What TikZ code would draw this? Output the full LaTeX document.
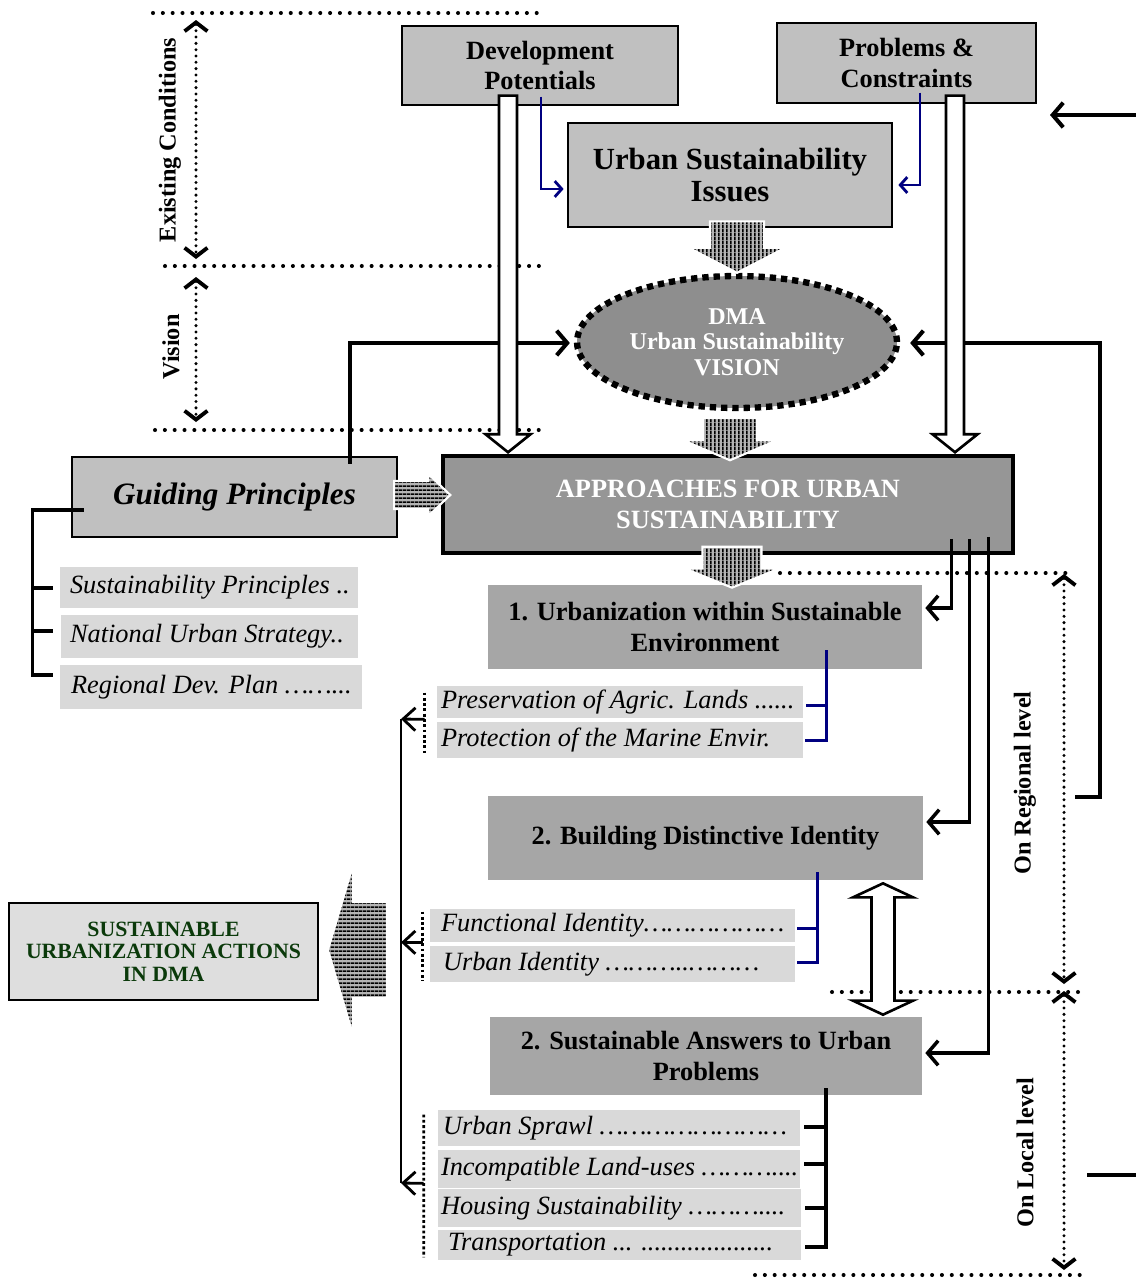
\documentclass[tikz,border=0pt]{standalone}
\usepackage{fontspec}
\setmainfont{Liberation Serif}
\usepackage{xcolor}
\usepackage{tikz}
\usetikzlibrary{positioning,arrows.meta,calc,shapes.geometric,patterns.meta}
\definecolor{boxgrey}{HTML}{C0C0C0}
\definecolor{coregrey}{HTML}{969696}
\definecolor{visiongrey}{HTML}{8E8E8E}
\definecolor{stepgrey}{HTML}{A6A6A6}
\definecolor{itemgrey}{HTML}{D9D9D9}
\definecolor{actiongrey}{HTML}{DEDEDE}
\definecolor{stripegrey}{HTML}{B4B4B4}
\definecolor{navyline}{HTML}{000080}
\definecolor{deepgreen}{HTML}{0B3A0B}

% stripes for the block arrows
\tikzdeclarepattern{
  name=vlines,
  type=uncolored,
  bounding box={(0pt,0pt) and (2.3pt,2.3pt)},
  tile size={(2.3pt,2.3pt)},
  code={\pgfpathrectangle{\pgfpointorigin}{\pgfpoint{1.2pt}{2.3pt}}\pgfusepath{fill}}
}
\tikzdeclarepattern{
  name=hlines,
  type=uncolored,
  bounding box={(0pt,0pt) and (2.3pt,2.3pt)},
  tile size={(2.3pt,2.3pt)},
  code={\pgfpathrectangle{\pgfpointorigin}{\pgfpoint{2.3pt}{1.2pt}}\pgfusepath{fill}}
}

% block arrows: style, from, tip, shaft half width, head half width, head length (px)
\newcommand{\downblock}[6]{%
  \path[#1] let \p1=(#2), \p2=(#3) in
    ({\x1-(#4)*0.02cm},{\y1}) -- ({\x1+(#4)*0.02cm},{\y1}) -- ({\x1+(#4)*0.02cm},{\y2+(#6)*0.02cm})
    -- ({\x1+(#5)*0.02cm},{\y2+(#6)*0.02cm}) -- ({\x1},{\y2}) -- ({\x1-(#5)*0.02cm},{\y2+(#6)*0.02cm})
    -- ({\x1-(#4)*0.02cm},{\y2+(#6)*0.02cm}) -- cycle;}
\newcommand{\sideblock}[6]{%
  \path[#1] let \p1=(#2), \p2=(#3) in
    ({\x1},{\y1+(#4)*0.02cm}) -- ({\x1},{\y1-(#4)*0.02cm}) -- ({\x2-(#6)*0.02cm},{\y1-(#4)*0.02cm})
    -- ({\x2-(#6)*0.02cm},{\y1-(#5)*0.02cm}) -- ({\x2},{\y1}) -- ({\x2-(#6)*0.02cm},{\y1+(#5)*0.02cm})
    -- ({\x2-(#6)*0.02cm},{\y1+(#4)*0.02cm}) -- cycle;}

\begin{document}
\begin{tikzpicture}[x=0.02cm,y=-0.02cm,>=Stealth]
    \tikzset{
        topbox/.style={
            draw=black,
            line width=0.7pt,
            fill=boxgrey,
            inner sep=0pt,
            align=center,
            font=\fontsize{15}{17.6}\selectfont\bfseries
        },
        issuebox/.style={topbox, line width=1.6pt, font=\fontsize{17.5}{17.8}\selectfont\bfseries},
        guidebox/.style={topbox, line width=1.3pt, font=\fontsize{17.7}{20}\selectfont\bfseries\itshape},
        corebox/.style={topbox, fill=coregrey, line width=2pt, text=white, font=\fontsize{15}{18}\selectfont\bfseries},
        visionnode/.style={
            ellipse,
            fill=visiongrey,
            draw=black,
            line width=3.6pt,
            dash pattern=on 3.6pt off 2.8pt,
            inner sep=0pt,
            align=center,
            text=white,
            font=\fontsize{13.7}{14.5}\selectfont\bfseries
        },
        stepbox/.style={fill=stepgrey, inner sep=0pt, align=center, font=\fontsize{15}{18}\selectfont\bfseries},
        itembox/.style 2 args={fill=itemgrey, inner sep=0pt, minimum width=#1, minimum height=#2},
        itemtext/.style={anchor=west, inner sep=0pt, font=\fontsize{15}{16}\selectfont\itshape},
        actionbox/.style={topbox, fill=actiongrey, line width=1.1pt, text=deepgreen, font=\fontsize{12.4}{12.8}\selectfont\bfseries},
        levelline/.style={line width=2.3pt, line cap=round, dash pattern=on 0pt off 5.6pt},
        levelarrow/.style={
            line width=1.9pt,
            line cap=round,
            dash pattern=on 0pt off 3.6pt,
            {Straight Barb[length=5pt,width=13pt,line width=2.2pt]}-{Straight Barb[length=5pt,width=13pt,line width=2.2pt]}
        },
        levellab/.style={rotate=90, inner sep=0pt, font=\fontsize{13.8}{14}\selectfont\bfseries},
        feedline/.style={line width=2.3pt},
        feedarrow/.style={line width=2.3pt, -{Straight Barb[length=6pt,width=14pt]}},
        pickarrow/.style={line width=2pt, -{Straight Barb[length=6pt,width=14pt]}, shorten >=0.06cm},
        bluearrow/.style={draw=navyline, line width=1.6pt, -{Straight Barb[length=4pt,width=9pt]}},
        bluebrace/.style={draw=navyline, line width=1.7pt},
        blackbrace/.style={line width=1.9pt},
        treeline/.style={line width=1.9pt},
        dotbar/.style={line width=1.6pt, dash pattern=on 1.6pt off 1.4pt},
        gatherline/.style={line width=1.6pt},
        gatherarrow/.style={line width=1.6pt, -{Straight Barb[length=7pt,width=13pt]}},
        hollow/.style={fill=white, draw=black, line width=1.5pt},
        vstripe/.style={preaction={fill=stripegrey}, pattern=vlines, pattern color=black, draw=white, line width=1.2pt},
        hstripe/.style={preaction={fill=stripegrey}, pattern=hlines, pattern color=black, draw=white, line width=1.2pt}
    }
    \useasboundingbox (0,0) rectangle (1136,1278);

    % Levels of the framework
    \draw[levelline] (153,13) -- (540,13);
    \draw[levelline] (165,266) -- (545,266);
    \draw[levelline] (155,430) -- (545,430);
    \draw[levelline] (780,573) -- (1070,573);
    \draw[levelline] (832,992) -- (1086,992);
    \draw[levelline] (755,1275) -- (1086,1275);
    \draw[levelarrow] (196,20) -- (196,259);
    \draw[levelarrow] (196,277) -- (196,422);
    \draw[levelarrow] (1064,574) -- (1064,984);
    \draw[levelarrow] (1064,991) -- (1064,1270);
    \node[levellab] (existlab)  at (170,140)  {Existing Conditions};
    \node[levellab] (visionlab) at (171,347)  {Vision};
    \node[levellab] (regionlab) at (1025,783) {On Regional level};
    \node[levellab] (locallab)  at (1025,1153){On Local level};

    % Main boxes
    \node[topbox, minimum width=5.52cm, minimum height=1.58cm] (devpot) at (540,65.5) {Development\\Potentials};
    \node[topbox, minimum width=5.18cm, minimum height=1.6cm] (probs) at (906.5,63) {Problems \&\\Constraints};
    \node[issuebox, minimum width=6.48cm, minimum height=2.08cm] (issues) at (730,175) {Urban Sustainability\\Issues};
    \node[visionnode, minimum width=6.4cm, minimum height=2.64cm] (vision) at (737,342) {DMA\\Urban Sustainability\\VISION};
    \node[guidebox, minimum width=6.5cm, minimum height=1.6cm] (guide) at (234.5,497) {Guiding Principles};
    \node[corebox, minimum width=11.4cm, minimum height=1.94cm] (approach) at (728,504.5) {APPROACHES FOR URBAN\\SUSTAINABILITY};
    \node[stepbox, minimum width=8.68cm, minimum height=1.68cm] (urbenv) at (705,627) {1. Urbanization within Sustainable\\Environment};
    \node[stepbox, minimum width=8.7cm, minimum height=1.68cm] (identity) at (705.5,838) {2. Building Distinctive Identity};
    \node[stepbox, minimum width=8.64cm, minimum height=1.56cm] (answers) at (706,1056) {2. Sustainable Answers to Urban\\Problems};
    \node[actionbox, minimum width=6.18cm, minimum height=1.94cm] (actions) at (163.5,951.5) {SUSTAINABLE\\URBANIZATION ACTIONS\\IN DMA};

    % Sub items
    \node[itembox={5.96cm}{0.82cm}, label={[itemtext, xshift=0.2cm]west:Sustainability Principles ..}] (sp) at (209,587.5) {};
    \node[itembox={5.94cm}{0.86cm}, label={[itemtext, xshift=0.18cm]west:National Urban Strategy..}] (nus) at (209.5,636.5) {};
    \node[itembox={6.04cm}{0.88cm}, label={[itemtext, xshift=0.22cm]west:Regional Dev. Plan ……...}] (rdp) at (211,687) {};
    \node[itembox={7.32cm}{0.64cm}, label={[itemtext, xshift=0.08cm]west:Preservation of Agric. Lands ......}] (pal) at (620,702) {};
    \node[itembox={7.32cm}{0.72cm}, label={[itemtext, xshift=0.08cm]west:Protection of the Marine Envir.}] (pme) at (620,740) {};
    \node[itembox={7.3cm}{0.66cm}, label={[itemtext, xshift=0.22cm]west:Functional Identity………………}] (fid) at (612.5,925.5) {};
    \node[itembox={7.3cm}{0.72cm}, label={[itemtext, xshift=0.26cm]west:Urban Identity ………..………}] (uid) at (612.5,964) {};
    \node[itembox={7.24cm}{0.72cm}, label={[itemtext, xshift=0.1cm]west:Urban Sprawl ……………………}] (usp) at (619,1128) {};
    \node[itembox={7.24cm}{0.76cm}, label={[itemtext, xshift=0.06cm]west:Incompatible Land-uses ………....}] (ilu) at (619,1169) {};
    \node[itembox={7.26cm}{0.76cm}, label={[itemtext, xshift=0.06cm]west:Housing Sustainability ………....}] (hsu) at (619.5,1208) {};
    \node[itembox={7.26cm}{0.6cm}, label={[itemtext, xshift=0.2cm]west:Transportation ... ....................}] (trn) at (619.5,1245) {};

    \coordinate (gather) at (401,719);
    \coordinate (gatherend) at (401,1183);
    \coordinate (loopfoot) at (1075,797);
    \coordinate (outtop) at (1136,115);
    \coordinate (outtopend) at (1050,115);
    \coordinate (outbot) at (1087,1175);
    \coordinate (outbotend) at (1136,1175);

    % Feedback lines
    \draw[feedarrow, shorten >=0.08cm] ($(guide.north)+(115.5,8)$) |- ($(vision.west)+(0,1)$);
    \draw[feedarrow, shorten >=0.2cm] (loopfoot) -- ++(25,0) |- ($(vision.east)+(0,1)$);
    \draw[feedarrow] (outtop) -- (outtopend);
    \draw[feedline] (outbot) -- (outbotend);

    % Approaches to the three fields
    \draw[pickarrow] ($(approach.south east)+(-63,-16)$) |- ($(urbenv.east)+(0,-19)$);
    \draw[pickarrow] ($(approach.south east)+(-45,-16)$) |- ($(identity.east)+(0,-16)$);
    \draw[pickarrow] ($(approach.south east)+(-26,-18)$) |- ($(answers.east)+(0,-3)$);

    % Guiding principles tree
    \draw[treeline] ($(guide.west)+(13,13)$) -| ($(rdp.west)+(-27,-12)$) -- ($(rdp.west)+(-7,-12)$);
    \draw[treeline] ($(sp.west)+(-27,0.5)$) -- ($(sp.west)+(-7,0.5)$);
    \draw[treeline] ($(nus.west)+(-28,-5.5)$) -- ($(nus.west)+(-8,-5.5)$);

    % Issues feeding
    \draw[bluearrow] ($(devpot.south)+(1,-9)$) |- ($(issues.west)+(-3,14)$);
    \draw[bluearrow] ($(probs.south)+(13.5,-11)$) |- ($(issues.east)+(5,10)$);

    % Brackets of the sub items
    \draw[bluebrace] ($(urbenv.south)+(121,-19)$) |- ($(pme.east)+(2,0)$);
    \draw[bluebrace] ($(pal.east)+(3,3)$) -| ($(urbenv.south)+(121,-19)$);
    \draw[bluebrace] ($(identity.south)+(111.5,-8)$) |- ($(uid.east)+(2,-2)$);
    \draw[bluebrace] ($(fid.east)+(2,2.5)$) -| ($(identity.south)+(111.5,-8)$);
    \draw[blackbrace] ($(answers.south)+(120,-7)$) |- ($(trn.east)+(4,2)$);
    \foreach \s/\dy in {usp/-1, ilu/-5, hsu/0}
        \draw[blackbrace] ($(\s.east)+(4,\dy)$) -| ($(answers.south)+(120,-7)$);

    % Gathering to actions
    \draw[dotbar] ($(pal.north west)+(-12,7)$) -- ($(pme.south west)+(-12,-5)$);
    \draw[dotbar] ($(fid.north west)+(-7,3)$) -- ($(uid.south west)+(-7,-2)$);
    \draw[dotbar] ($(usp.north west)+(-14,5)$) -- ($(trn.south west)+(-14,-3)$);
    \draw[gatherline] (gather) -- (gatherend);
    \draw[gatherarrow] ($(pal.south west)+(-12,1)$) -- (gather);
    \draw[gatherarrow] ($(fid.south west)+(-7,0)$) -- (gather |- fid.south west);
    \draw[gatherarrow] ($(ilu.south west)+(-14,-5)$) -- (gatherend);

    % Hollow arrows
    \downblock{hollow}{$(devpot.south)+(-32,-10)$}{$(approach.north)+(0,-2)$}{9}{22.5}{18}
    \downblock{hollow}{$(probs.south)+(48.5,-8)$}{$(approach.north)+(0,-2)$}{9}{22.5}{18}
    \path[hollow] let \p1=($(identity.south)+(177.5,3)$), \p2=($(answers.north)+(177,-2)$) in
        ({\x1},{\y1}) -- ({\x1+30*0.02cm},{\y1-14*0.02cm}) -- ({\x1+11.5*0.02cm},{\y1-14*0.02cm})
        -- ({\x1+11.5*0.02cm},{\y2+14*0.02cm}) -- ({\x1+30*0.02cm},{\y2+14*0.02cm}) -- ({\x1},{\y2})
        -- ({\x1-30*0.02cm},{\y2+14*0.02cm}) -- ({\x1-11.5*0.02cm},{\y2+14*0.02cm})
        -- ({\x1-11.5*0.02cm},{\y1-14*0.02cm}) -- ({\x1-30*0.02cm},{\y1-14*0.02cm}) -- cycle;

    % Striped arrows
    \downblock{vstripe}{$(issues.south)+(7,-7)$}{vision.north}{27}{48}{25}
    \downblock{vstripe}{$(vision.south)+(-7,7)$}{$(approach.north)+(0,6)$}{27}{47}{20}
    \downblock{vstripe}{$(approach.south)+(4,-8)$}{$(urbenv.north)+(0,3)$}{29.5}{47}{19}
    \sideblock{hstripe}{$(guide.east)+(-4,-2)$}{$(approach.west)+(9,0)$}{14}{21}{22}
    \sideblock{hstripe}{$(gather |- actions.east)+(-14,-1.5)$}{$(actions.east)+(9,0)$}{48}{85}{-25}
\end{tikzpicture}
\end{document}
